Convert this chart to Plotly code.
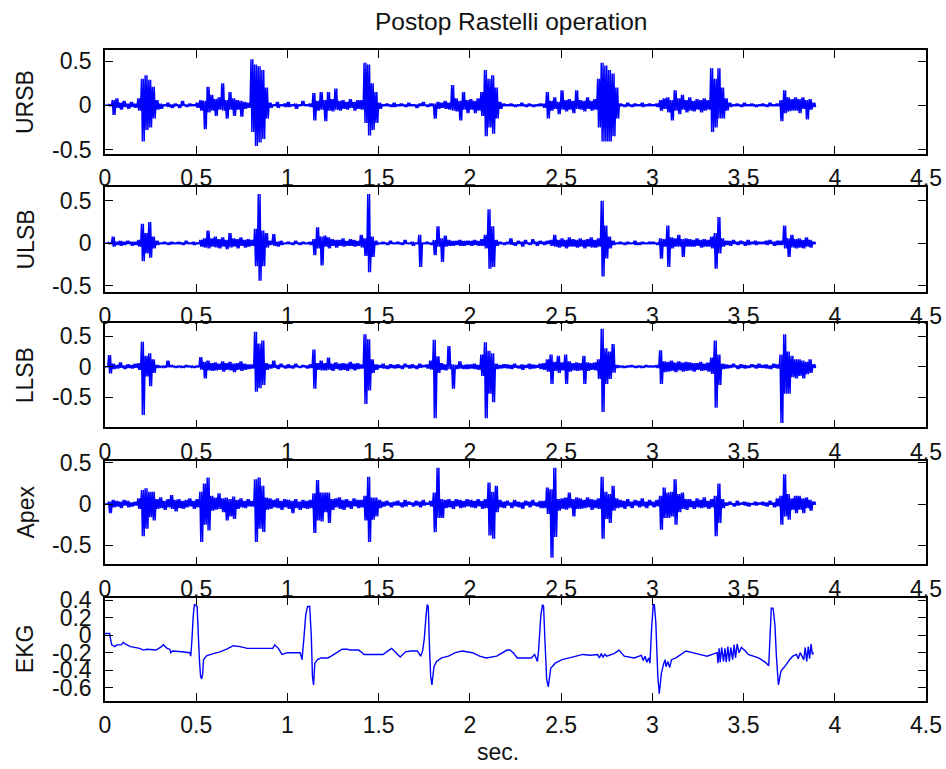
import plotly.graph_objects as go

# Five stacked channels. The four heart-sound channels are stored in 0.02 s
# bins; each bin holds the upper and lower excursion of the trace, in
# hundredths of a unit.
DT = 0.02
CHANNELS = ["URSB", "ULSB", "LLSB", "Apex", "EKG"]

URSB_HI = [0, 1, 6, 8, 3, 5, 2, 4, 2, 8,
           30, 34, 29, 21, 6, 2, 1, 3, 1, 2,
           1, 5, 1, 2, 1, 3, 6, 5, 21, 12,
           7, 9, 25, 6, 15, 8, 6, 5, 4, 3,
           52, 46, 44, 40, 20, 3, 1, 4, 1, 2,
           4, 1, 2, 1, 5, 1, 2, 14, 5, 15,
           6, 15, 7, 19, 5, 6, 4, 7, 4, 6,
           6, 48, 46, 25, 15, 3, 1, 2, 1, 3,
           1, 2, 1, 3, 1, 1, 2, 4, 1, 2,
           2, 4, 3, 5, 3, 23, 8, 5, 15, 6,
           7, 5, 8, 15, 40, 30, 34, 20, 4, 2,
           1, 2, 1, 1, 3, 1, 2, 1, 1, 2,
           2, 15, 5, 9, 4, 17, 6, 7, 5, 17,
           6, 5, 9, 5, 7, 30, 48, 45, 40, 36,
           20, 2, 1, 3, 1, 2, 1, 3, 1, 2,
           1, 2, 6, 8, 9, 6, 17, 8, 12, 6,
           9, 5, 7, 6, 8, 6, 42, 30, 42, 20,
           8, 3, 1, 2, 1, 3, 1, 2, 1, 1,
           2, 1, 3, 1, 2, 6, 17, 9, 7, 9,
           7, 9, 6, 7, 3]
URSB_LO = [0, -1, -11, -3, -5, -2, -4, -2, -3, -6,
           -41, -28, -25, -15, -5, -4, -1, -2, -3, -1,
           -3, -1, -2, -1, -1, -3, -6, -27, -8, -6,
           -12, -5, -6, -15, -5, -12, -5, -13, -4, -3,
           -30, -46, -42, -38, -15, -3, -1, -3, -1, -2,
           -2, -1, -4, -1, -1, -1, -2, -17, -6, -5,
           -18, -6, -7, -5, -6, -4, -5, -3, -6, -4,
           -5, -20, -34, -28, -20, -4, -1, -1, -2, -2,
           -1, -1, -2, -1, -1, -3, -1, -1, -2, -1,
           -15, -4, -3, -4, -5, -6, -7, -17, -5, -9,
           -5, -9, -6, -12, -35, -25, -32, -15, -4, -1,
           -1, -1, -2, -1, -1, -2, -1, -2, -1, -1,
           -3, -15, -6, -4, -10, -5, -7, -5, -9, -4,
           -5, -7, -4, -6, -5, -25, -41, -41, -41, -35,
           -15, -1, -2, -1, -2, -1, -1, -2, -1, -1,
           -1, -2, -6, -4, -8, -17, -6, -10, -5, -8,
           -6, -7, -5, -8, -6, -5, -30, -25, -15, -15,
           -6, -2, -1, -1, -2, -1, -1, -1, -2, -1,
           -1, -2, -1, -1, -1, -18, -9, -7, -6, -6,
           -9, -4, -16, -5, -2]

ULSB_HI = [0, 1, 8, 2, 3, 2, 3, 2, 2, 4,
           23, 12, 25, 8, 3, 1, 2, 1, 2, 1,
           2, 1, 3, 1, 2, 1, 4, 6, 15, 6,
           8, 5, 7, 4, 12, 6, 5, 7, 4, 5,
           4, 17, 58, 15, 12, 3, 11, 2, 3, 1,
           2, 1, 3, 1, 2, 1, 2, 5, 19, 8,
           9, 7, 5, 4, 4, 6, 3, 5, 4, 3,
           10, 6, 58, 8, 3, 1, 2, 1, 3, 1,
           2, 1, 4, 1, 2, 1, 10, 1, 2, 1,
           4, 20, 6, 9, 4, 3, 3, 4, 3, 3,
           3, 4, 3, 5, 10, 40, 20, 4, 2, 1,
           2, 6, 1, 3, 2, 4, 1, 5, 2, 3,
           2, 3, 4, 10, 4, 6, 4, 7, 5, 4,
           6, 4, 5, 7, 4, 6, 50, 21, 8, 3,
           1, 2, 1, 2, 1, 3, 1, 2, 1, 2,
           2, 1, 6, 5, 21, 7, 6, 10, 5, 6,
           5, 4, 6, 4, 5, 4, 8, 12, 31, 6,
           3, 3, 4, 2, 3, 2, 4, 2, 3, 2,
           2, 3, 4, 2, 3, 3, 21, 6, 10, 5,
           6, 4, 7, 4, 2]
ULSB_LO = [0, -1, -4, -2, -3, -2, -1, -3, -2, -4,
           -21, -12, -17, -6, -2, -1, -1, -2, -1, -1,
           -1, -2, -1, -1, -2, -1, -4, -5, -6, -4,
           -5, -6, -4, -7, -5, -4, -6, -3, -5, -4,
           -3, -27, -44, -27, -5, -2, -3, -4, -2, -1,
           -1, -2, -1, -2, -1, -1, -2, -14, -6, -26,
           -4, -6, -3, -5, -3, -4, -3, -3, -4, -3,
           -5, -15, -34, -16, -2, -1, -1, -2, -1, -1,
           -1, -2, -1, -1, -3, -1, -28, -1, -1, -2,
           -14, -4, -22, -4, -3, -3, -2, -3, -3, -2,
           -3, -2, -3, -3, -6, -30, -28, -3, -1, -2,
           -1, -2, -3, -1, -4, -1, -2, -1, -3, -1,
           -2, -1, -3, -4, -5, -4, -6, -4, -4, -5,
           -4, -6, -4, -5, -5, -4, -39, -18, -6, -2,
           -1, -1, -2, -1, -1, -2, -2, -1, -1, -1,
           -1, -2, -18, -4, -28, -6, -4, -4, -16, -4,
           -4, -4, -3, -5, -4, -4, -6, -30, -12, -4,
           -2, -3, -1, -2, -1, -3, -2, -1, -2, -1,
           -1, -2, -1, -3, -2, -2, -6, -16, -5, -6,
           -5, -6, -4, -5, -1]

LLSB_HI = [0, 19, 5, 3, 7, 2, 4, 3, 5, 6,
           41, 18, 22, 12, 3, 1, 2, 10, 3, 1,
           2, 1, 3, 2, 1, 2, 16, 8, 10, 6,
           7, 5, 9, 6, 8, 5, 6, 9, 5, 4,
           4, 57, 38, 43, 6, 4, 10, 3, 5, 2,
           4, 2, 5, 1, 3, 2, 4, 28, 6, 10,
           6, 15, 5, 7, 5, 6, 5, 8, 5, 6,
           4, 53, 45, 12, 4, 3, 5, 2, 4, 3,
           4, 2, 5, 3, 4, 2, 5, 3, 4, 10,
           44, 17, 6, 4, 34, 4, 3, 9, 3, 4,
           4, 5, 3, 20, 40, 26, 22, 5, 3, 4,
           4, 3, 5, 2, 4, 3, 5, 4, 3, 5,
           6, 12, 20, 8, 18, 7, 20, 9, 6, 7,
           6, 18, 7, 6, 7, 12, 62, 30, 25, 37,
           3, 2, 1, 2, 3, 1, 2, 1, 3, 2,
           2, 3, 27, 9, 8, 10, 7, 9, 7, 8,
           7, 6, 6, 8, 5, 7, 15, 43, 20, 5,
           4, 3, 5, 2, 4, 3, 2, 4, 3, 5,
           3, 4, 2, 5, 4, 20, 53, 25, 18, 12,
           12, 10, 8, 12, 4]
LLSB_LO = [0, -11, -4, -3, -2, -4, -2, -3, -2, -5,
           -79, -16, -32, -10, -2, -1, -2, -1, -1, -2,
           -1, -2, -1, -1, -2, -1, -5, -19, -6, -7,
           -6, -5, -8, -5, -6, -9, -5, -7, -5, -4,
           -3, -41, -35, -30, -5, -3, -2, -4, -1, -3,
           -2, -3, -1, -2, -1, -3, -2, -36, -5, -6,
           -6, -5, -7, -4, -6, -5, -7, -4, -6, -4,
           -3, -61, -39, -10, -5, -2, -3, -4, -2, -3,
           -2, -4, -1, -3, -2, -4, -2, -1, -3, -5,
           -84, -10, -5, -6, -4, -36, -4, -3, -4, -4,
           -3, -4, -5, -15, -84, -44, -58, -4, -3, -2,
           -3, -4, -2, -3, -5, -2, -4, -3, -2, -4,
           -5, -8, -28, -7, -10, -6, -28, -8, -6, -7,
           -6, -28, -7, -5, -6, -20, -74, -28, -20, -10,
           -2, -1, -2, -1, -1, -2, -1, -2, -1, -1,
           -1, -2, -28, -9, -8, -7, -9, -6, -8, -7,
           -6, -8, -5, -7, -6, -8, -12, -67, -30, -4,
           -3, -2, -1, -4, -2, -3, -2, -1, -3, -2,
           -2, -3, -4, -2, -3, -92, -44, -44, -17, -19,
           -15, -19, -12, -10, -2]

APEX_HI = [0, 3, 5, 4, 3, 5, 4, 2, 3, 7,
           17, 19, 15, 15, 6, 8, 4, 6, 11, 5,
           6, 4, 5, 7, 4, 6, 15, 25, 32, 10,
           8, 13, 7, 8, 6, 9, 5, 7, 4, 6,
           4, 30, 32, 22, 8, 7, 5, 7, 4, 6,
           5, 4, 6, 3, 5, 4, 5, 13, 29, 14,
           14, 14, 6, 7, 8, 5, 6, 4, 7, 5,
           5, 10, 33, 8, 8, 5, 3, 4, 2, 3,
           4, 2, 5, 3, 2, 4, 3, 5, 2, 4,
           14, 44, 6, 5, 6, 4, 6, 5, 4, 6,
           5, 4, 6, 4, 6, 26, 15, 22, 5, 3,
           4, 2, 5, 3, 2, 4, 3, 5, 2, 4,
           4, 20, 18, 44, 6, 7, 8, 14, 6, 8,
           7, 5, 8, 6, 5, 7, 33, 15, 12, 22,
           7, 5, 4, 6, 3, 5, 4, 7, 3, 5,
           3, 5, 10, 20, 14, 15, 30, 12, 14, 6,
           6, 4, 7, 5, 8, 4, 6, 10, 25, 6,
           2, 3, 1, 4, 2, 3, 2, 1, 3, 2,
           3, 2, 4, 2, 7, 10, 36, 12, 7, 10,
           10, 7, 8, 5, 3]
APEX_LO = [0, -11, -4, -3, -5, -2, -4, -3, -2, -6,
           -39, -30, -16, -20, -6, -5, -7, -4, -6, -9,
           -5, -6, -4, -3, -6, -4, -46, -25, -32, -8,
           -7, -6, -10, -20, -15, -18, -6, -4, -5, -3,
           -3, -46, -30, -34, -7, -6, -4, -5, -7, -4,
           -6, -11, -5, -7, -5, -6, -5, -35, -20, -21,
           -10, -23, -7, -4, -6, -7, -4, -6, -3, -5,
           -4, -20, -46, -19, -15, -5, -3, -2, -4, -2,
           -2, -4, -3, -1, -3, -2, -4, -2, -1, -3,
           -34, -17, -17, -5, -4, -6, -3, -5, -4, -3,
           -4, -5, -3, -6, -5, -38, -42, -10, -4, -5,
           -2, -5, -3, -4, -6, -2, -4, -2, -3, -5,
           -5, -12, -65, -40, -8, -6, -7, -5, -15, -6,
           -6, -5, -4, -7, -5, -6, -42, -18, -23, -8,
           -5, -4, -6, -3, -5, -2, -4, -3, -5, -2,
           -4, -3, -31, -17, -17, -15, -25, -10, -6, -7,
           -4, -6, -4, -5, -4, -6, -4, -39, -23, -5,
           -2, -1, -3, -2, -1, -2, -3, -1, -2, -1,
           -2, -3, -1, -4, -3, -25, -15, -19, -7, -11,
           -7, -11, -5, -8, -1]

# EKG trace as (time, value) knots
EKG_T = [0.0, 0.025, 0.03, 0.037, 0.055, 0.065, 0.09, 0.1, 0.11, 0.14,
         0.19, 0.21, 0.23, 0.28, 0.31, 0.32, 0.34, 0.355, 0.36, 0.37,
         0.42, 0.465, 0.47, 0.475, 0.484, 0.49, 0.505, 0.512, 0.518, 0.524,
         0.53, 0.535, 0.54, 0.556, 0.594, 0.63, 0.667, 0.704, 0.74, 0.78,
         0.92, 0.93, 0.95, 0.97, 1.0, 1.07, 1.08, 1.09, 1.10, 1.11,
         1.122, 1.131, 1.137, 1.143, 1.15, 1.165, 1.184, 1.222, 1.24, 1.27,
         1.30, 1.33, 1.34, 1.39, 1.41, 1.42, 1.524, 1.543, 1.571, 1.59,
         1.618, 1.647, 1.675, 1.712, 1.73, 1.741, 1.75, 1.76, 1.766, 1.772,
         1.779, 1.785, 1.792, 1.803, 1.817, 1.845, 1.883, 1.92, 1.958, 2.015,
         2.053, 2.09, 2.147, 2.204, 2.22, 2.241, 2.26, 2.336, 2.355, 2.37,
         2.377, 2.389, 2.398, 2.404, 2.411, 2.421, 2.43, 2.443, 2.468, 2.505,
         2.562, 2.619, 2.66, 2.70, 2.71, 2.72, 2.73, 2.74, 2.75, 2.79,
         2.817, 2.846, 2.90, 2.94, 2.95, 2.96, 2.97, 2.98, 2.987, 2.996,
         3.005, 3.011, 3.019, 3.03, 3.038, 3.05, 3.063, 3.07, 3.075, 3.085,
         3.095, 3.105, 3.129, 3.185, 3.242, 3.30, 3.355, 3.36, 3.366, 3.372,
         3.38, 3.39, 3.398, 3.405, 3.414, 3.422, 3.43, 3.44, 3.448, 3.456,
         3.465, 3.475, 3.488, 3.51, 3.525, 3.582, 3.62, 3.638, 3.648, 3.652,
         3.662, 3.672, 3.68, 3.691, 3.705, 3.733, 3.752, 3.77, 3.79, 3.80,
         3.81, 3.83, 3.838, 3.846, 3.855, 3.862, 3.87, 3.877, 3.884]
EKG_V = [0.02, 0.02, -0.04, -0.11, -0.13, -0.11, -0.11, -0.08, -0.10, -0.13,
         -0.15, -0.17, -0.16, -0.17, -0.13, -0.11, -0.15, -0.16, -0.20, -0.18,
         -0.19, -0.20, -0.24, -0.10, 0.23, 0.35, 0.33, -0.02, -0.30, -0.47,
         -0.50, -0.45, -0.28, -0.235, -0.21, -0.19, -0.16, -0.12, -0.13, -0.15,
         -0.15, -0.11, -0.15, -0.22, -0.20, -0.20, -0.28, -0.04, 0.23, 0.33,
         0.33, -0.02, -0.47, -0.57, -0.32, -0.28, -0.26, -0.26, -0.24, -0.20,
         -0.16, -0.16, -0.17, -0.17, -0.20, -0.22, -0.22, -0.19, -0.15, -0.19,
         -0.25, -0.19, -0.18, -0.18, -0.24, -0.18, -0.04, 0.23, 0.35, 0.33,
         -0.16, -0.47, -0.57, -0.36, -0.30, -0.26, -0.24, -0.20, -0.18, -0.20,
         -0.24, -0.26, -0.24, -0.17, -0.17, -0.21, -0.26, -0.26, -0.22, -0.30,
         -0.16, 0.23, 0.35, 0.33, -0.04, -0.51, -0.59, -0.38, -0.32, -0.28,
         -0.25, -0.22, -0.23, -0.22, -0.26, -0.21, -0.25, -0.22, -0.24, -0.21,
         -0.17, -0.24, -0.26, -0.23, -0.29, -0.24, -0.31, -0.26, -0.32, 0.08,
         0.35, 0.35, 0.15, -0.47, -0.67, -0.43, -0.32, -0.28, -0.36, -0.30,
         -0.37, -0.28, -0.26, -0.18, -0.21, -0.24, -0.20, -0.32, -0.15, -0.31,
         -0.14, -0.30, -0.15, -0.31, -0.13, -0.30, -0.14, -0.28, -0.11, -0.26,
         -0.10, -0.20, -0.14, -0.18, -0.22, -0.26, -0.31, -0.35, 0.12, 0.31,
         0.31, 0.12, -0.24, -0.57, -0.41, -0.34, -0.28, -0.24, -0.22, -0.27,
         -0.20, -0.28, -0.14, -0.30, -0.13, -0.27, -0.10, -0.22, -0.20]

X_TICKS = [0, 0.5, 1, 1.5, 2, 2.5, 3, 3.5, 4, 4.5]
X_LABELS = ["0", "0.5", "1", "1.5", "2", "2.5", "3", "3.5", "4", "4.5"]
Y_TICKS_PCG = [-0.5, 0, 0.5]
Y_LABELS_PCG = ["-0.5", "0", "0.5"]
Y_TICKS_EKG = [-0.6, -0.4, -0.2, 0, 0.2, 0.4]
Y_LABELS_EKG = ["-0.6", "-0.4", "-0.2", "0", "0.2", "0.4"]

TITLE = "Postop Rastelli operation"
X_TITLE = "sec."

# ---------------------------------------------------------------- layout
W, H = 946, 769
AX_L, AX_R = 105, 926
# (top px, bottom px, y range) for each panel
PANELS = [
    (50.0, 154.0, [-0.55, 0.625]),
    (187.3, 291.7, [-0.57, 0.66]),
    (323.3, 427.3, [-0.99, 0.71]),
    (460.7, 564.3, [-0.73, 0.525]),
    (597.7, 700.7, [-0.75, 0.43]),
]
FONT = "Liberation Sans, Arial, Helvetica, sans-serif"
FS = 23
BLUE = "#0000ff"
INK = "#111111"


def envelope(hi, lo):
    """Trace that sweeps each bin between its upper and lower excursion."""
    xs, ys = [], []
    for i, (h, l) in enumerate(zip(hi, lo)):
        t = i * DT
        for j in range(2):
            xs += [round(t + j * DT / 2, 4), round(t + j * DT / 2 + DT / 4, 4)]
            ys += [h / 100.0, l / 100.0]
    return xs, ys


fig = go.Figure()
series = [(URSB_HI, URSB_LO), (ULSB_HI, ULSB_LO), (LLSB_HI, LLSB_LO), (APEX_HI, APEX_LO)]
for k, (hi, lo) in enumerate(series, start=1):
    xs, ys = envelope(hi, lo)
    fig.add_trace(go.Scatter(x=xs, y=ys, mode="lines",
                             line=dict(color=BLUE, width=1.45, simplify=False),
                             xaxis=f"x{k}", yaxis=f"y{k}", showlegend=False, hoverinfo="skip"))
fig.add_trace(go.Scatter(x=EKG_T, y=EKG_V, mode="lines",
                         line=dict(color=BLUE, width=1.4, simplify=False),
                         xaxis="x5", yaxis="y5", showlegend=False, hoverinfo="skip"))

layout = dict(
    template="none",
    width=W, height=H, margin=dict(l=0, r=0, t=0, b=0, pad=0, autoexpand=False),
    paper_bgcolor="white", plot_bgcolor="white", showlegend=False,
    font=dict(family=FONT, size=FS, color=INK),
)
annotations = []
for k, (top, bot, yr) in enumerate(PANELS, start=1):
    ekg = (k == 5)
    common = dict(showline=True, linecolor="black", linewidth=1.5, mirror="ticks",
                  ticks="inside", ticklen=8, tickwidth=1.3, tickcolor="black",
                  showgrid=False, zeroline=False, automargin=False,
                  tickfont=dict(family=FONT, size=FS, color=INK))
    layout[f"xaxis{k}"] = dict(domain=[AX_L / W, AX_R / W], range=[0, 4.5], anchor=f"y{k}",
                               tickmode="array", tickvals=X_TICKS, ticktext=X_LABELS,
                               ticklabelstandoff=3, **common)
    layout[f"yaxis{k}"] = dict(domain=[1 - bot / H, 1 - top / H], range=yr, anchor=f"x{k}",
                               tickmode="array",
                               tickvals=Y_TICKS_EKG if ekg else Y_TICKS_PCG,
                               ticktext=Y_LABELS_EKG if ekg else Y_LABELS_PCG,
                               ticklabelstandoff=7, **common)
    annotations.append(dict(text=CHANNELS[k - 1], x=25 / W, y=1 - (top + bot) / 2 / H,
                            xref="paper", yref="paper", showarrow=False, textangle=-90,
                            xanchor="center", yanchor="middle",
                            font=dict(family=FONT, size=FS, color=INK)))

annotations.append(dict(text=TITLE, x=511 / W, y=1 - 22 / H, xref="paper", yref="paper",
                        showarrow=False, xanchor="center", yanchor="middle",
                        font=dict(family=FONT, size=24.5, color=INK)))
annotations.append(dict(text=X_TITLE, x=498 / W, y=1 - 752 / H, xref="paper", yref="paper",
                        showarrow=False, xanchor="center", yanchor="middle",
                        font=dict(family=FONT, size=FS, color=INK)))
layout["annotations"] = annotations
fig.update_layout(**layout)

# page without default body margin so the figure sits at the window origin
fig.write_html("out.html",
               post_script="document.body.style.margin='0';document.body.style.overflow='hidden';")
